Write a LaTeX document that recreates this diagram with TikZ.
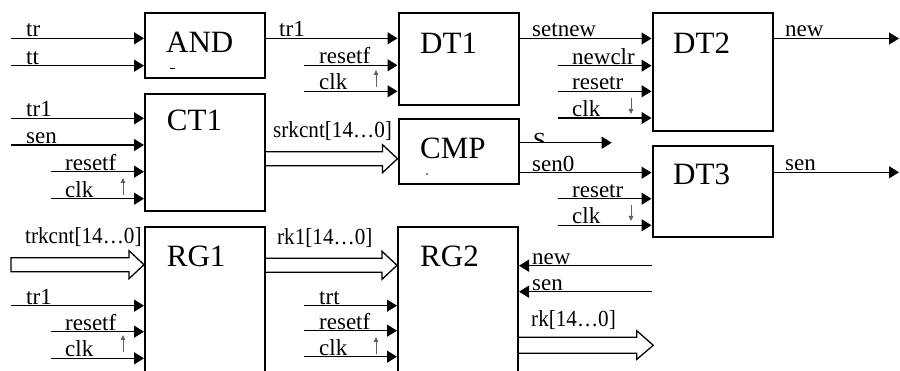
\documentclass[tikz,border=0pt]{standalone}
\usepackage{fontspec}
\setmainfont{Liberation Serif}
\usetikzlibrary{arrows.meta,calc}

% hollow bus arrow: #1 start point, #2 tip point (same height), #3 optional closing
\newcommand\busarrow[3]{%
  \draw[bus] ($(#1)+(0,-7)$) -- ($(#2)+(-15,-7)$) -- ($(#2)+(-15,-14)$) -- (#2)
    -- ($(#2)+(-15,14)$) -- ($(#2)+(-15,7)$) -- ($(#1)+(0,7)$) #3;}
% bus names are set slightly condensed
\newcommand\busname[1]{\scalebox{0.92}[1]{#1}}

\begin{document}
\begin{tikzpicture}[x=1pt,y=-1pt,
  blk/.style={draw, line width=2pt, inner sep=0pt, minimum width=120pt},
  sig/.style={line width=1.3pt, -{Triangle[length=10pt,width=12pt]}},
  bus/.style={line width=1.3pt, line join=miter},
  lbl/.style={anchor=base west, inner sep=0pt, font=\fontsize{23}{25}\selectfont},
  big/.style={anchor=base west, inner sep=0pt, font=\fontsize{31}{33}\selectfont},
  edgemark/.style={draw=black!62, line width=1pt, -{Triangle[length=5pt,width=4.5pt]}}
]
\useasboundingbox (0,0) rectangle (900,371);
\clip (0,0) rectangle (900,371);

% ---- blocks ----
\node[blk, minimum height=65pt]  (AND) at (205,45.5) {};
\node[blk, minimum height=92pt]  (DT1) at (458.5,59) {};
\node[blk, minimum height=118pt] (DT2) at (712.5,72) {};
\node[blk, minimum height=117pt] (CT1) at (205,152.2) {};
\node[blk, minimum height=65pt]  (CMP) at (458.5,151.5) {};
\node[blk, minimum height=91pt]  (DT3) at (712.5,191.5) {};
\node[blk, minimum height=180pt] (RG1) at (205,317) {};
\node[blk, minimum height=180pt] (RG2) at (458,317) {};

\node[big] (tAND) at (166,53) {AND};
\node[big] (tDT1) at (420,53.3) {DT1};
\node[big] (tDT2) at (673,53.3) {DT2};
\node[big] (tCT1) at (166.7,131) {CT1};
\node[big] (tCMP) at (420,158.3) {CMP};
\node[big] (tDT3) at (673,185) {DT3};
\node[big] (tRG1) at (166.7,266.7) {RG1};
\node[big] (tRG2) at (420,266.7) {RG2};

% small remnants inside AND and CMP
\draw[line width=0.8pt] (170,68.5) -- (175,68.5);
\fill (427,174) circle (0.8pt);

% ---- free ends and row levels ----
\coordinate (i-tr)   at (11,38.3);
\coordinate (i-tt)   at (11,65.7);
\coordinate (y-tr1)  at (0,38.3);
\coordinate (i-rf1)  at (304,65.3);
\coordinate (i-ck1)  at (304,91.3);
\coordinate (y-setn) at (0,38.5);
\coordinate (o-new)  at (899,38.5);
\coordinate (i-nclr) at (558,65.7);
\coordinate (i-rr2)  at (558,91.3);
\coordinate (i-ck2)  at (558,118);
\coordinate (i-ctr)  at (11,118.3);
\coordinate (i-csen) at (11,145);
\coordinate (i-crf)  at (51,171.7);
\coordinate (i-cck)  at (51,198.7);
\coordinate (y-srk)  at (0,158.7);
\coordinate (o-s)    at (611.7,142.7);
\coordinate (y-sen0) at (0,172.7);
\coordinate (i-rr3)  at (558,198.7);
\coordinate (i-ck3)  at (558,225.3);
\coordinate (o-sen)  at (899,172.3);
\coordinate (i-trk)  at (11,264.7);
\coordinate (i-rtr)  at (11,305.7);
\coordinate (i-rrf)  at (51,331.7);
\coordinate (i-rck)  at (51,358.3);
\coordinate (y-rk1)  at (0,265.3);
\coordinate (i-trt)  at (304,305.7);
\coordinate (i-grf)  at (304,330.7);
\coordinate (i-gck)  at (304,356.7);
\coordinate (i-gnew) at (652,265.7);
\coordinate (i-gsen) at (652,291.7);
\coordinate (o-rk)   at (653.3,345.3);

% ---- single-bit connectors ----
\draw[sig] (i-tr) -- (i-tr -| AND.west);
\draw[sig] (i-tt) -- (i-tt -| AND.west);
\draw[sig] (AND.east |- y-tr1) -- (DT1.west |- y-tr1);
\draw[sig] (i-rf1) -- (i-rf1 -| DT1.west);
\draw[sig] (i-ck1) -- (i-ck1 -| DT1.west);
\draw[sig] (DT1.east |- y-setn) -- (DT2.west |- y-setn);
\draw[sig] (DT2.east |- o-new) -- (o-new);
\draw[sig] (i-nclr) -- (i-nclr -| DT2.west);
\draw[sig] (i-rr2) -- (i-rr2 -| DT2.west);
\draw[sig] (i-ck2) -- (i-ck2 -| DT2.west);
\draw[sig] (i-ctr) -- (i-ctr -| CT1.west);
\draw[sig] (i-csen) -- (i-csen -| CT1.west);
\draw[sig] (i-crf) -- (i-crf -| CT1.west);
\draw[sig] (i-cck) -- (i-cck -| CT1.west);
\draw[sig] (CMP.east |- o-s) -- (o-s);
\draw[sig] (CMP.east |- y-sen0) -- (DT3.west |- y-sen0);
\draw[sig] (i-rr3) -- (i-rr3 -| DT3.west);
\draw[sig] (i-ck3) -- (i-ck3 -| DT3.west);
\draw[sig] (DT3.east |- o-sen) -- (o-sen);
\draw[sig] (i-rtr) -- (i-rtr -| RG1.west);
\draw[sig] (i-rrf) -- (i-rrf -| RG1.west);
\draw[sig] (i-rck) -- (i-rck -| RG1.west);
\draw[sig] (i-trt) -- (i-trt -| RG2.west);
\draw[sig] (i-grf) -- (i-grf -| RG2.west);
\draw[sig] (i-gck) -- (i-gck -| RG2.west);
\draw[sig] (i-gnew) -- (i-gnew -| RG2.east);
\draw[sig] (i-gsen) -- (i-gsen -| RG2.east);

% ---- buses ----
\coordinate (b-srk0) at (CT1.east |- y-srk);
\coordinate (b-srk1) at (CMP.west |- y-srk);
\busarrow{b-srk0}{b-srk1}{}
\coordinate (b-trk1) at (RG1.west |- i-trk);
\busarrow{i-trk}{b-trk1}{-- cycle}
\coordinate (b-rk10) at (RG1.east |- y-rk1);
\coordinate (b-rk11) at (RG2.west |- y-rk1);
\busarrow{b-rk10}{b-rk11}{}
\coordinate (b-rk0) at (RG2.east |- o-rk);
\draw[bus] ($(b-rk0)+(0,-8)$) -- ($(o-rk)+(-16.5,-8)$) -- ($(o-rk)+(-16.5,-14.5)$) -- (o-rk)
  -- ($(o-rk)+(-16.5,14)$) -- ($(o-rk)+(-16.5,8)$) -- ($(b-rk0)+(0,8)$);

% ---- clock edge marks (rising / falling) ----
\draw[edgemark] (376,87)  -- (376,70);
\draw[edgemark] (631,98)  -- (631,114);
\draw[edgemark] (123,195) -- (123,178);
\draw[edgemark] (631,205) -- (631,221);
\draw[edgemark] (123,352) -- (123,335);
\draw[edgemark] (376,354) -- (376,337);

% ---- signal names ----
\node[lbl] (l1)  at (26,36.8)   {tr};
\node[lbl] (l2)  at (26,64.2)   {tt};
\node[lbl] (l3)  at (279,36.8)  {tr1};
\node[lbl] (l4)  at (319,63.8)  {resetf};
\node[lbl] (l5)  at (319,89.8)  {clk};
\node[lbl] (l6)  at (532,37)    {setnew};
\node[lbl] (l7)  at (785,37)    {new};
\node[lbl] (l8)  at (572,64.2)  {newclr};
\node[lbl] (l9)  at (572,89.8)  {resetr};
\node[lbl] (l10) at (572,116.5) {clk};
\node[lbl] (l11) at (26,116.8)  {tr1};
\node[lbl] (l12) at (26,143.5)  {sen};
\node[lbl] (l13) at (65,170.2)  {resetf};
\node[lbl] (l14) at (65,197.2)  {clk};
\node[lbl] (l15) at (273,138)   {\busname{srkcnt[14…0]}};
\begin{scope}
  \clip (525,125) rectangle (560,142);
  \node[lbl] (l16) at (533,148.5) {S};
\end{scope}
\node[lbl] (l17) at (532,171.2) {sen0};
\node[lbl] (l18) at (572,197.2) {resetr};
\node[lbl] (l19) at (572,223.8) {clk};
\node[lbl] (l20) at (785,170.8) {sen};
\node[lbl] (l21) at (25,244)    {\busname{trkcnt[14…0]}};
\node[lbl] (l22) at (26,304.2)  {tr1};
\node[lbl] (l23) at (65,330.2)  {resetf};
\node[lbl] (l24) at (65,356.8)  {clk};
\node[lbl] (l25) at (277,245)   {\busname{rk1[14…0]}};
\node[lbl] (l26) at (319,304.2) {trt};
\node[lbl] (l27) at (319,329.2) {resetf};
\node[lbl] (l28) at (319,355.2) {clk};
\node[lbl] (l29) at (532,264.2) {new};
\node[lbl] (l30) at (532,290.2) {sen};
\node[lbl] (l31) at (531,327)   {\busname{rk[14…0]}};
\end{tikzpicture}
\end{document}
